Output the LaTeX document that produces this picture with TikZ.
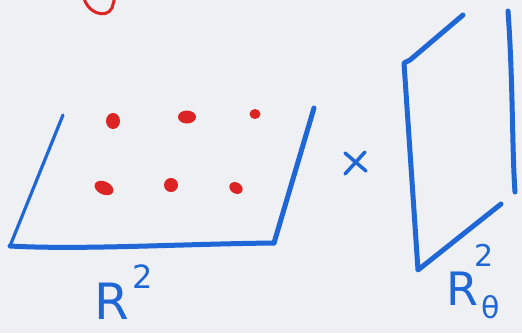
\documentclass[tikz,border=0pt]{standalone}
\usepackage{fontspec}
\setmainfont{DejaVu Sans}
\definecolor{paper}{HTML}{EEF0F4}
\definecolor{pen}{HTML}{1F66D6}
\definecolor{redpen}{HTML}{DD2424}
\tikzset{
  pline/.style={draw=pen, line width=5pt, line cap=round, line join=round},
  thin pline/.style={draw=pen, line width=3.2pt, line cap=round, line join=round},
  dotpt/.style={fill=redpen, draw=none},
  hand/.style={text=pen, inner sep=0pt, anchor=base west, font=\fontsize{50}{50}\selectfont},
  small hand/.style={text=pen, inner sep=0pt, anchor=base west, font=\fontsize{32}{32}\selectfont},
}
\begin{document}
\begin{tikzpicture}[x=1pt,y=-1pt]
\fill[paper] (0,0) rectangle (522,333);
\useasboundingbox (0,0) rectangle (522,333);
% red arc at top
\draw[redpen, line width=3pt, line cap=round] (84,-3) .. controls (86,12) and (106,20) .. (112,8) -- (115,-3);
% left plane
\coordinate (a) at (63,115);
\coordinate (b) at (10,246);
\coordinate (c) at (274,243);
\coordinate (d) at (314,108);
\draw[thin pline] (a) -- (b);
\draw[pline] (b) .. controls (80,250) and (180,244) .. (c);
\draw[pline] (c) -- (d);
% dots
\fill[dotpt] (113,121) ellipse (7pt and 8pt);
\fill[dotpt] (187,117) ellipse (9pt and 6.5pt);
\fill[dotpt] (255,114) ellipse (5.5pt and 5pt);
\fill[dotpt, rotate around={-25:(104,188)}] (104,188) ellipse (10pt and 6.5pt) ;
\fill[dotpt] (171,185) ellipse (7pt and 7pt);
\fill[dotpt, rotate around={-30:(236,188)}] (236,188) ellipse (7pt and 5.5pt);
% times sign
\node[inner sep=0pt] (times) at (355,162) {};
\draw[pen, line width=3.5pt, line cap=round] (345,153) -- (366,171);
\draw[pen, line width=3.5pt, line cap=round] (365,152) -- (345,174);
% right plane
\coordinate (e) at (463,15);
\coordinate (f) at (404,63);
\coordinate (g) at (418,270);
\coordinate (h) at (501,204);
\coordinate (i) at (508,11);
\coordinate (j) at (515,192);
\draw[pline] (e) -- (410,60) -- (f) -- (g) -- (h);
\draw[pline] (i) .. controls (513,80) and (512,150) .. (j);
% labels
\node[hand] (r2) at (94,319) {R};
\node[small hand] (r2s) at (132,288) {2};
\node[hand, font=\fontsize{46}{46}\selectfont] (r2t) at (446,305) {R};
\node[small hand, font=\fontsize{30}{30}\selectfont] (r2ts) at (474,266) {2};
\node[small hand, font=\fontsize{30}{30}\selectfont] (r2tt) at (481,318) {θ};
\end{tikzpicture}
\end{document}
